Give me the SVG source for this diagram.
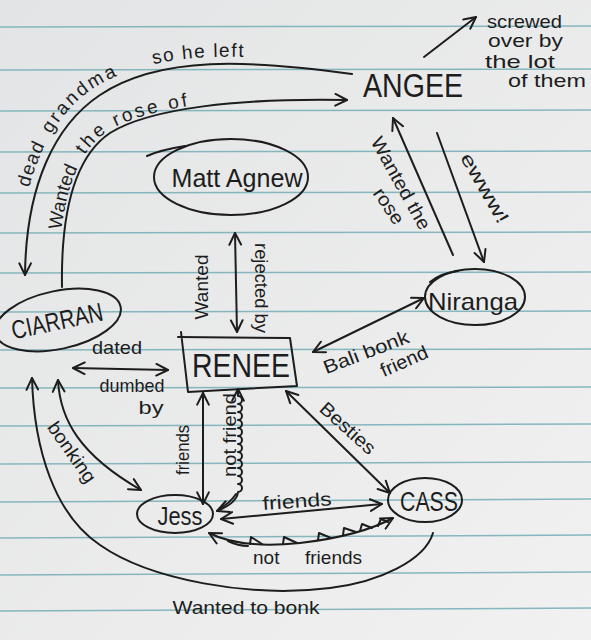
<svg xmlns="http://www.w3.org/2000/svg" width="591" height="640" viewBox="0 0 591 640">
<defs>
<linearGradient id="paperGrad" x1="0" y1="0" x2="1" y2="1">
<stop offset="0" stop-color="#e3e4e5"/><stop offset="1" stop-color="#f1f1f1"/>
</linearGradient>
<marker id="arr" viewBox="0 0 12 12" refX="11" refY="6" markerWidth="14" markerHeight="14" markerUnits="userSpaceOnUse" orient="auto-start-reverse">
<path d="M1,1 L11,6 L1,11" fill="none" stroke="#1d1d1d" stroke-width="1.7" stroke-linecap="round" stroke-linejoin="round"/>
</marker>
<path id="tpOuter" d="M18,275 C19,182 48,118 94,88 C157,48 250,53 352,67"/>
<path id="tpInner" d="M59,287 C58,224 67,158 108,131 C148,106 240,95 347,97"/>
</defs>
<style>
.ink{fill:none;stroke:#1d1d1d;stroke-width:2;stroke-linecap:round;stroke-linejoin:round}
.rule{stroke:#86b6bd;stroke-width:1.5}
.lbl{font-family:"Liberation Sans",Arial,sans-serif;font-size:19px;fill:#1d1d1d}
.name{font-family:"Liberation Sans",Arial,sans-serif;fill:#1d1d1d;text-anchor:middle}
.mid{text-anchor:middle}
</style>
<rect x="0" y="0" width="591" height="640" fill="url(#paperGrad)"/>
<g id="paper">
<line class="rule" x1="0" y1="27" x2="591" y2="26"/>
<line class="rule" x1="0" y1="70" x2="591" y2="69"/>
<line class="rule" x1="0" y1="111" x2="591" y2="110"/>
<line class="rule" x1="0" y1="152" x2="591" y2="151"/>
<line class="rule" x1="0" y1="193" x2="591" y2="192"/>
<line class="rule" x1="0" y1="233" x2="591" y2="232"/>
<line class="rule" x1="0" y1="273" x2="591" y2="272"/>
<line class="rule" x1="0" y1="312" x2="591" y2="311"/>
<line class="rule" x1="0" y1="350" x2="591" y2="349"/>
<line class="rule" x1="0" y1="388" x2="591" y2="387"/>
<line class="rule" x1="0" y1="426" x2="591" y2="424"/>
<line class="rule" x1="0" y1="464" x2="591" y2="462"/>
<line class="rule" x1="0" y1="502" x2="591" y2="499"/>
<line class="rule" x1="0" y1="538" x2="591" y2="535"/>
<line class="rule" x1="0" y1="575" x2="591" y2="572"/>
<line class="rule" x1="0" y1="611" x2="591" y2="608"/>
</g>

<g id="connectors">
<path id="e-angee-ciarran" class="ink" d="M352,74 C250,60 160,55 100,95 C55,125 26,185 25,275" marker-end="url(#arr)"/>
<path id="e-ciarran-angee" class="ink" d="M62,287 C61,225 70,160 110,133 C150,108 240,98 347,100" marker-end="url(#arr)"/>
<path id="e-screwed" class="ink" d="M424,57 L476,17" marker-end="url(#arr)"/>
<path id="e-niranga-angee" class="ink" d="M453,255 L393,118" marker-end="url(#arr)"/>
<path id="e-angee-niranga" class="ink" d="M437,133 L484,262" marker-end="url(#arr)"/>
<path id="e-matt-renee" class="ink" d="M235,233 L237,332" marker-start="url(#arr)" marker-end="url(#arr)"/>
<path id="e-niranga-renee" class="ink" d="M424,298 L313,352" marker-start="url(#arr)" marker-end="url(#arr)"/>
<path id="e-ciarran-renee" class="ink" d="M73,368 L168,370" marker-start="url(#arr)" marker-end="url(#arr)"/>
<path id="e-ciarran-jess" class="ink" d="M58,380 C60,420 80,455 141,490" marker-start="url(#arr)" marker-end="url(#arr)"/>
<path id="e-cass-ciarran" class="ink" d="M32,378 C34,450 55,515 100,545 C150,580 250,598 330,588 C380,582 425,560 433,533" marker-start="url(#arr)"/>
<path id="e-renee-jess" class="ink" d="M203,393 L203,504" marker-start="url(#arr)" marker-end="url(#arr)"/>
<path id="e-renee-jess-not" class="ink" d="M238,389 L238,396 a4,4 0 0 1 0,8 a4,4 0 0 1 0,8 a4,4 0 0 1 0,8 a4,4 0 0 1 0,8 a4,4 0 0 1 0,8 a4,4 0 0 1 0,8 a4,4 0 0 1 0,8 a4,4 0 0 1 0,8 a4,4 0 0 1 0,8 a4,4 0 0 1 0,8 a4,4 0 0 1 0,8 a4,4 0 0 1 0,8 Q237,503 217,511" marker-start="url(#arr)" marker-end="url(#arr)"/>
<path class="ink" d="M236,494 Q230,503 219,509" stroke-width="3.5"/>
<path id="e-renee-cass" class="ink" d="M286,391 L390,493" marker-start="url(#arr)" marker-end="url(#arr)"/>
<path id="e-jess-cass" class="ink" d="M221,519 L382,504" marker-start="url(#arr)" marker-end="url(#arr)"/>
<path id="e-jess-cass-not" class="ink" d="M209,533 Q240,549 300,543 Q360,536 393,518" marker-start="url(#arr)" marker-end="url(#arr)"/>
<path class="ink" d="M250,544 L251,537 L262,544 M283,544 L284,537 L297,543 M318,540 L319,533 L331,538 M343,535 L344,528 L356,532 M360,531 L362,524 L372,528 M378,526 L381,519 L388,522"/>
<path class="ink" d="M228,541 Q238,546 248,546" stroke-width="4"/>
</g>

<g id="edge-labels">
<text class="lbl" font-size="20" letter-spacing="1"><textPath href="#tpOuter" startOffset="88">dead</textPath></text>
<text class="lbl" font-size="21" letter-spacing="2.5"><textPath href="#tpOuter" startOffset="146">grandma</textPath></text>
<text class="lbl" font-size="21" letter-spacing="1.5"><textPath href="#tpOuter" startOffset="274">so he left</textPath></text>
<text class="lbl" font-size="19"><textPath href="#tpInner" startOffset="57">Wanted</textPath></text>
<text class="lbl" font-size="20" letter-spacing="2.8"><textPath href="#tpInner" startOffset="136">the rose of</textPath></text>
<text class="lbl mid" transform="translate(401,183) rotate(61)" dy="0.35em" textLength="103" lengthAdjust="spacingAndGlyphs">Wanted the</text>
<text class="lbl mid" transform="translate(389,206) rotate(56)" dy="0.35em" textLength="40" lengthAdjust="spacingAndGlyphs">rose</text>
<text class="lbl mid" font-size="22" transform="translate(485,188) rotate(60)" dy="0.35em" textLength="78" lengthAdjust="spacingAndGlyphs">ewww!</text>
<text class="lbl mid" transform="translate(201,287) rotate(-90)" dy="0.35em" textLength="65" lengthAdjust="spacingAndGlyphs">Wanted</text>
<text class="lbl mid" font-size="18" transform="translate(262,288) rotate(90)" dy="0.35em" textLength="90" lengthAdjust="spacingAndGlyphs">rejected by</text>
<text class="lbl mid" transform="translate(366,352) rotate(-21)" dy="0.35em" textLength="90" lengthAdjust="spacingAndGlyphs">Bali bonk</text>
<text class="lbl mid" transform="translate(404,361) rotate(-24)" dy="0.35em" textLength="50" lengthAdjust="spacingAndGlyphs">friend</text>
<text class="lbl mid" x="117" y="354" textLength="50" lengthAdjust="spacingAndGlyphs">dated</text>
<text class="lbl mid" font-size="18" x="132" y="392" textLength="65" lengthAdjust="spacingAndGlyphs">dumbed</text>
<text class="lbl mid" font-size="18" x="151" y="414" textLength="25" lengthAdjust="spacingAndGlyphs">by</text>
<text class="lbl mid" transform="translate(72,452) rotate(55)" dy="0.35em" textLength="70" lengthAdjust="spacingAndGlyphs">bonking</text>
<text class="lbl mid" transform="translate(182,450) rotate(-90)" dy="0.35em" textLength="50" lengthAdjust="spacingAndGlyphs">friends</text>
<text class="lbl mid" transform="translate(229,435) rotate(-90)" dy="0.35em" textLength="84" lengthAdjust="spacingAndGlyphs">not friend</text>
<text class="lbl mid" transform="translate(348,428) rotate(42)" dy="0.35em" textLength="68" lengthAdjust="spacingAndGlyphs">Besties</text>
<text class="lbl mid" transform="translate(297,501) rotate(-4)" dy="0.35em" textLength="69" lengthAdjust="spacingAndGlyphs">friends</text>
<text class="lbl" font-size="20" x="253" y="564">not <tspan x="305">friends</tspan></text>
<text class="lbl mid" font-size="20" x="246" y="614" textLength="147" lengthAdjust="spacingAndGlyphs">Wanted to bonk</text>
<text class="lbl" font-size="20" x="487" y="28" textLength="75" lengthAdjust="spacingAndGlyphs">screwed</text>
<text class="lbl" font-size="20" x="488" y="47" textLength="75" lengthAdjust="spacingAndGlyphs">over by</text>
<text class="lbl" font-size="20" x="485" y="68" textLength="70" lengthAdjust="spacingAndGlyphs">the lot</text>
<text class="lbl" font-size="20" x="508" y="87" textLength="78" lengthAdjust="spacingAndGlyphs">of them</text>
</g>

<g id="node-angee">
<text class="name" x="413" y="97" font-size="33" textLength="100" lengthAdjust="spacingAndGlyphs">ANGEE</text>
</g>
<g id="node-matt">
<ellipse class="ink" cx="231" cy="177" rx="77" ry="38"/>
<path class="ink" d="M147,156 Q160,150 185,146"/>
<text class="name" x="237" y="187" font-size="25" textLength="131" lengthAdjust="spacingAndGlyphs">Matt Agnew</text>
</g>
<g id="node-niranga">
<ellipse class="ink" cx="475" cy="297" rx="50" ry="28"/>
<path class="ink" d="M430,282 Q441,273 458,271"/>
<text class="name" x="473" y="310" font-size="24" textLength="90" lengthAdjust="spacingAndGlyphs">Niranga</text>
</g>
<g id="node-ciarran">
<ellipse class="ink" cx="58" cy="320" rx="64" ry="29" transform="rotate(-12 58 320)"/>
<text class="name" transform="translate(57,321) rotate(-12)" y="9" font-size="26" textLength="93" lengthAdjust="spacingAndGlyphs">CIARRAN</text>
</g>
<g id="node-renee">
<path class="ink" d="M181,332 L188,392 L297,386 L290,338 L178,337"/>
<text class="name" x="241" y="377" font-size="34" textLength="98" lengthAdjust="spacingAndGlyphs">RENEE</text>
</g>
<g id="node-jess">
<ellipse class="ink" cx="175" cy="514" rx="38" ry="19"/>
<text class="name" x="180" y="525" font-size="25" textLength="45" lengthAdjust="spacingAndGlyphs">Jess</text>
</g>
<g id="node-cass">
<ellipse class="ink" cx="425" cy="500" rx="37" ry="22"/>
<text class="name" x="429" y="511" font-size="27" textLength="58" lengthAdjust="spacingAndGlyphs">CASS</text>
</g>
</svg>
